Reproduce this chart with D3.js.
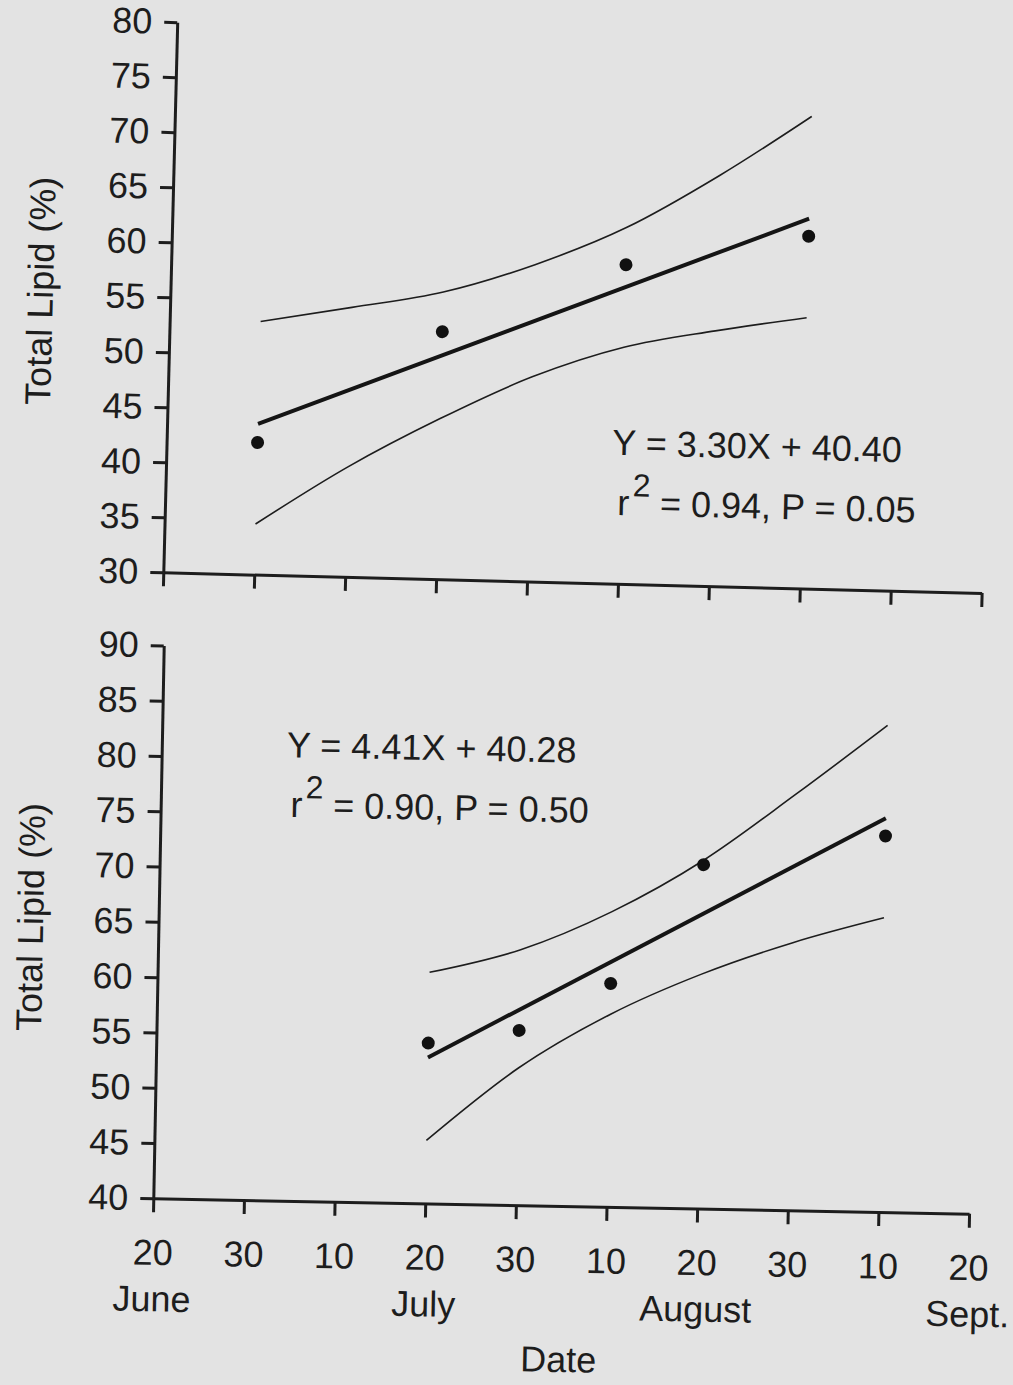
<!DOCTYPE html>
<html>
<head>
<meta charset="utf-8">
<script src="https://cdn.jsdelivr.net/npm/d3@7"></script>
<style>
  body { margin: 0; background: #e3e3e3; }
  svg { display: block; font-family: Arial, "Liberation Sans", Helvetica, sans-serif; }
  .axis path, .axis line { stroke: #1d1d1d; stroke-width: 3; }
  .axis text { font-size: 36px; fill: #1d1d1d; font-family: Arial, "Liberation Sans", Helvetica, sans-serif; }
  .lbl { font-size: 36px; fill: #1d1d1d; }
</style>
</head>
<body>
<svg width="1013" height="1385"></svg>
<script>
// ---> Data (x = steps of ~10 days starting 20 June)
const dateTicks = [0, 1, 2, 3, 4, 5, 6, 7, 8, 9];
const dayLabels = ["20", "30", "10", "20", "30", "10", "20", "30", "10", "20"];
const months = ["June", "July", "August", "Sept."];
const monthTicks = [0, 3, 6, 9];

// top panel
const topYTicks = [30, 35, 40, 45, 50, 55, 60, 65, 70, 75, 80];
const topDotX = [1, 3, 5, 7];
const topDotY = [42.0, 52.5, 59.0, 62.0];
const topFitX = [1, 7];
const topFitY = [43.7, 63.6];
const topBandX = [1, 2, 3, 4, 5, 6, 7];
const topUpper = [53.0, 54.5, 56.1, 58.8, 62.4, 67.3, 72.9];
const topLower = [34.6, 40.0, 44.6, 48.6, 51.5, 53.2, 54.6];
const topEq = ["Y = 3.30X + 40.40", "0.94", "0.05"];

// bottom panel
const botYTicks = [40, 45, 50, 55, 60, 65, 70, 75, 80, 85, 90];
const botDotX = [3, 4, 5, 6, 8];
const botDotY = [54.5, 55.8, 60.2, 71.1, 74.0];
const botFitX = [3, 8];
const botFitY = [53.2, 75.6];
const botBandX = [3, 4, 5, 6, 7, 8];
const botUpper = [60.9, 63.1, 66.7, 71.5, 77.6, 84.0];
const botLower = [45.7, 52.4, 57.4, 61.2, 64.2, 66.6];
const botEq = ["Y = 4.41X + 40.28", "0.90", "0.50"];

const svg = d3.select("svg");
svg.append("rect").attr("width", 1013).attr("height", 1385).attr("fill", "#e3e3e3");

// the scan is a little tilted, so each panel gets its own small rotation
function drawPanel(p) {
    const g = svg.append("g")
        .attr("transform", `translate(${p.ox},${p.oy}) rotate(${p.angle}) translate(0,${-p.h})`);

    const x = d3.scaleLinear().domain([0, 9]).range([0, p.w]);
    const y = d3.scaleLinear().domain([p.yTicks[0], p.yTicks[p.yTicks.length - 1]]).range([p.h, 0]);

    g.append("g")
        .attr("class", "axis")
        .call(d3.axisLeft(y).tickValues(p.yTicks).tickSize(13).tickSizeOuter(0).tickPadding(12));

    g.append("g")
        .attr("class", "axis")
        .attr("transform", `translate(0,${p.h})`)
        .call(d3.axisBottom(x).tickValues(dateTicks).tickSize(14).tickSizeOuter(0).tickPadding(27)
            .tickFormat((d, i) => p.xLabels ? dayLabels[i] : ""));

    // confidence bands
    const band = d3.line().x(d => x(d[0])).y(d => y(d[1])).curve(d3.curveMonotoneX);
    [p.upper, p.lower].forEach(vals => {
        g.append("path")
            .datum(p.bandX.map((v, i) => [v, vals[i]]))
            .attr("d", band)
            .attr("fill", "none")
            .attr("stroke", "#1d1d1d")
            .attr("stroke-width", 1.6);
    });

    // regression line
    g.append("path")
        .datum(p.fitX.map((v, i) => [v, p.fitY[i]]))
        .attr("d", d3.line().x(d => x(d[0])).y(d => y(d[1])))
        .attr("stroke", "#151515")
        .attr("stroke-width", 4);

    g.selectAll("circle.dot")
        .data(p.dotX.map((v, i) => [v, p.dotY[i]]))
        .enter()
        .append("circle")
        .attr("class", "dot")
        .attr("cx", d => x(d[0]))
        .attr("cy", d => y(d[1]))
        .attr("r", 6.5)
        .attr("fill", "#111");

    // equation text
    g.append("text").attr("class", "lbl")
        .attr("x", x(p.eqPos[0])).attr("y", y(p.eqPos[1]))
        .text(p.eq[0]);
    const t2 = g.append("text").attr("class", "lbl")
        .attr("x", x(p.eqPos2[0])).attr("y", y(p.eqPos2[1]));
    t2.append("tspan").text("r");
    t2.append("tspan").attr("dx", 3).attr("dy", -19).attr("font-size", 32).text("2");
    t2.append("tspan").attr("dy", 19).text(` = ${p.eq[1]}, P = ${p.eq[2]}`);

    // y title
    g.append("text").attr("class", "lbl")
        .attr("transform", `translate(${p.titleX},${p.titleY}) rotate(-90)`)
        .attr("text-anchor", "middle")
        .attr("dy", "0.35em")
        .text("Total Lipid (%)");

    if (p.xLabels) {
        g.selectAll("text.month")
            .data(months)
            .enter()
            .append("text")
            .attr("class", "lbl month")
            .attr("text-anchor", "middle")
            .attr("x", (d, i) => x(monthTicks[i]))
            .attr("y", p.h + 113)
            .text(d => d);
        g.append("text").attr("class", "lbl")
            .attr("text-anchor", "middle")
            .attr("x", x(4.5))
            .attr("y", p.h + 166)
            .text("Date");
    }
}

drawPanel({
    ox: 163.3, oy: 572.3, angle: 1.45, w: 818.6, h: 550.3,
    yTicks: topYTicks, xLabels: false,
    dotX: topDotX, dotY: topDotY, fitX: topFitX, fitY: topFitY,
    bandX: topBandX, upper: topUpper, lower: topLower,
    eq: topEq, eqPos: [4.9, 41.7], eqPos2: [4.97, 36.25],
    titleX: -130, titleY: 272
});

drawPanel({
    ox: 153.3, oy: 1198.3, angle: 1.08, w: 815.9, h: 553,
    yTicks: botYTicks, xLabels: true,
    dotX: botDotX, dotY: botDotY, fitX: botFitX, fitY: botFitY,
    bandX: botBandX, upper: botUpper, lower: botLower,
    eq: botEq, eqPos: [1.38, 80.1], eqPos2: [1.43, 74.7],
    titleX: -128, titleY: 274
});
</script>
</body>
</html>
